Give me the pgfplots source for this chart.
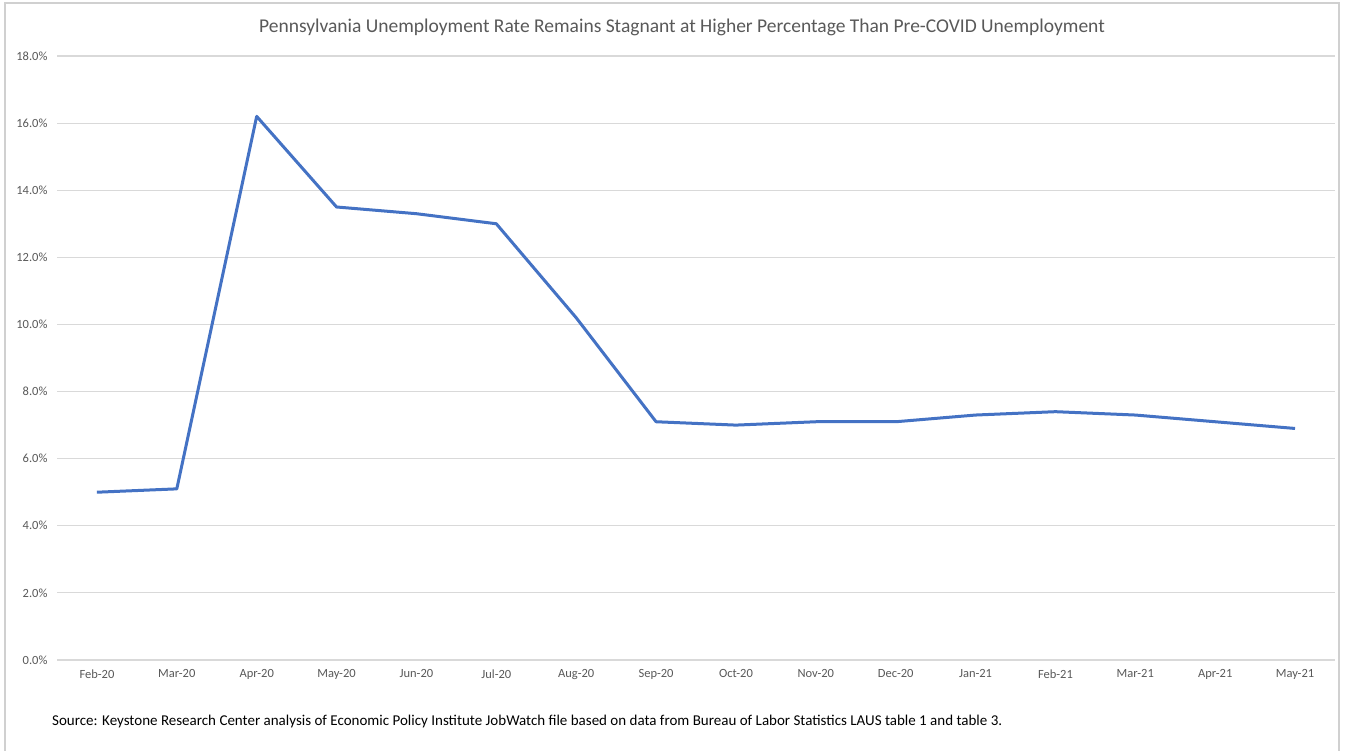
\documentclass[border=0pt]{standalone}
\usepackage{pgfplots}
\pgfplotsset{compat=1.18}
\usepackage{fontspec}
\setmainfont{Carlito}
\definecolor{linecol}{HTML}{4472C4}
\definecolor{gridcol}{HTML}{D9D9D9}
\definecolor{labcol}{HTML}{595959}
\definecolor{framecol}{HTML}{D0D0D0}
\begin{document}
\begin{tikzpicture}[x=1pt,y=1pt]
\path[use as bounding box, fill=white] (0,0) rectangle (1362,751);
% chart frame
\draw[framecol, line width=1.2pt] (5,-5) -- (5,748) -- (1339,748) -- (1339,-5);
\begin{axis}[
  at={(57pt,91pt)}, anchor=south west,
  scale only axis, width=1278pt, height=604pt,
  xmin=-0.5, xmax=15.5, ymin=0, ymax=18,
  xtick={0,...,15},
  xticklabels={Feb-20,Mar-20,Apr-20,May-20,Jun-20,Jul-20,Aug-20,Sep-20,Oct-20,Nov-20,Dec-20,Jan-21,Feb-21,Mar-21,Apr-21,May-21},
  ytick={0,2,...,18},
  yticklabel={\pgfmathprintnumber[fixed,fixed zerofill,precision=1]{\tick}\%},
  /pgf/number format/assume math mode=true,
  axis line style={draw=none},
  major tick length=0pt,
  ymajorgrids, grid style={gridcol, line width=1.2pt},
  ticklabel style={font=\fontsize{12.5}{14}\selectfont, text=labcol},
  yticklabel style={xshift=-6pt},
  xticklabel style={yshift=-6pt},
  clip=false,
]
\addplot[linecol, line width=3pt, line join=round] coordinates {
  (0,5.0) (1,5.1) (2,16.2) (3,13.5) (4,13.3) (5,13.0) (6,10.2) (7,7.1)
  (8,7.0) (9,7.1) (10,7.1) (11,7.3) (12,7.4) (13,7.3) (14,7.1) (15,6.9)
};
\end{axis}
\node[text=labcol, font=\fontsize{19.5}{22}\selectfont] at (682,724) {Pennsylvania Unemployment Rate Remains Stagnant at Higher Percentage Than Pre-COVID Unemployment};
\node[anchor=west, inner sep=0pt, font=\fontsize{15}{18}\selectfont] at (52,29) {Source: Keystone Research Center analysis of Economic Policy Institute JobWatch file based on data from Bureau of Labor Statistics LAUS table 1 and table 3.};
\end{tikzpicture}
\end{document}
